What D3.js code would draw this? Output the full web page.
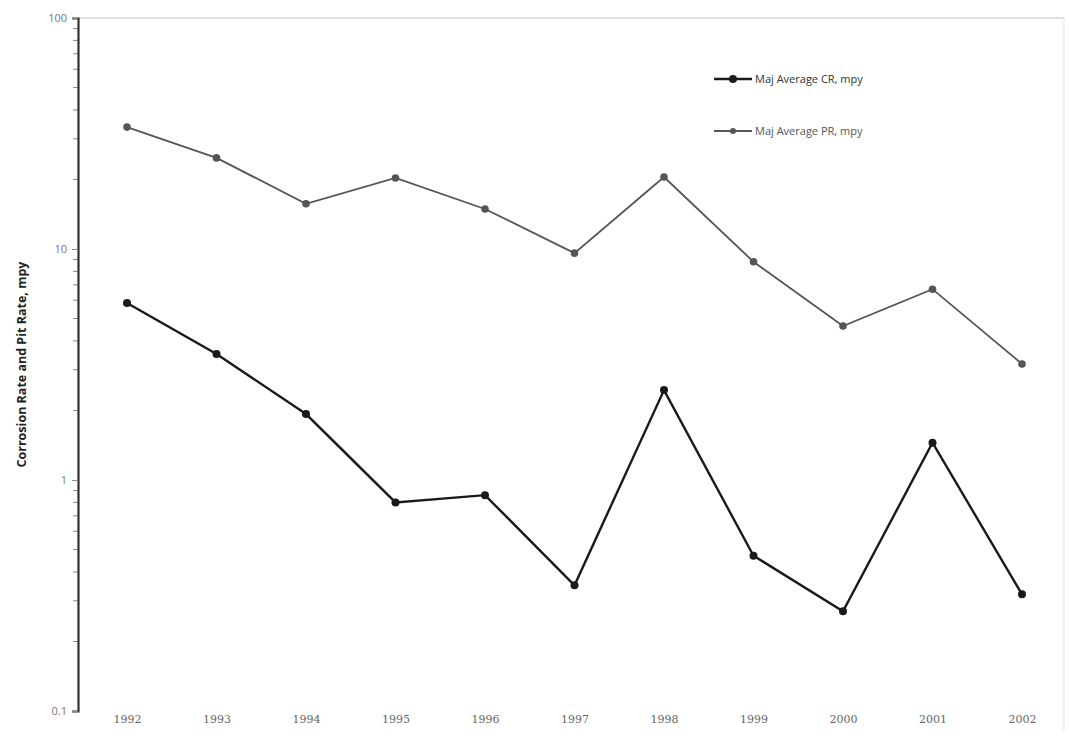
<!DOCTYPE html>
<html>
<head>
<meta charset="utf-8">
<script src="https://cdn.jsdelivr.net/npm/d3@7"></script>
<style>
  html, body { margin: 0; padding: 0; background: #fff; }
  svg { display: block; }
</style>
</head>
<body>
<svg id="chart" width="1069" height="750"></svg>
<script>
const years = [1992, 1993, 1994, 1995, 1996, 1997, 1998, 1999, 2000, 2001, 2002];
const crValues = [5.84, 3.51, 1.93, 0.80, 0.86, 0.35, 2.45, 0.47, 0.27, 1.45, 0.32];
const prValues = [33.7, 24.8, 15.7, 20.3, 14.9, 9.6, 20.5, 8.8, 4.64, 6.7, 3.18];
const yTicks = [0.1, 1, 10, 100];
const yTickLabels = ["0.1", "1", "10", "100"];
const seriesNames = ["Maj Average CR, mpy", "Maj Average PR, mpy"];

const svg = d3.select("#chart");
const margin = { top: 18, right: 3, bottom: 39, left: 78 };
const width = 1069 - margin.left - margin.right;
const height = 750 - margin.top - margin.bottom;

const g = svg.append("g").attr("transform", `translate(${margin.left},${margin.top})`);

const x = d3.scalePoint().domain(years).range([49, 944]);
const y = d3.scaleLog().domain([0.1, 100]).range([height, 0]);

// faint plot frame (top and right)
g.append("line")
  .attr("x1", 0).attr("x2", width - 2)
  .attr("y1", 0).attr("y2", 0)
  .attr("stroke", "#d4d4d4").attr("stroke-width", 1.5);
g.append("line")
  .attr("x1", width - 2).attr("x2", width - 2)
  .attr("y1", 0).attr("y2", height + 20)
  .attr("stroke", "#ececec").attr("stroke-width", 1.5);

// y axis with minor ticks
const minorTicks = y.ticks().filter((v) => !yTicks.includes(v));
g.append("g")
  .selectAll("line")
  .data(minorTicks)
  .join("line")
  .attr("x1", -5).attr("x2", 0)
  .attr("y1", (d) => y(d)).attr("y2", (d) => y(d))
  .attr("stroke", "#888").attr("stroke-width", 1);

const yAxis = g.append("g")
  .call(d3.axisLeft(y).tickValues(yTicks).tickFormat((d, i) => yTickLabels[i]).tickSize(6).tickPadding(5));
yAxis.select(".domain").attr("stroke", "#333").attr("stroke-width", 2.2);
yAxis.selectAll(".tick line").attr("stroke", "#888");
yAxis.selectAll(".tick text")
  .attr("fill", "#777")
  .style("font-family", "'Open Sans', sans-serif")
  .style("font-size", "11px");

// x axis labels only
const xAxis = g.append("g")
  .attr("transform", `translate(0,${height})`)
  .call(d3.axisBottom(x).tickSize(0).tickPadding(4));
xAxis.select(".domain").remove();
xAxis.selectAll(".tick text")
  .attr("fill", "#666")
  .style("font-family", "'DejaVu Serif', serif")
  .style("font-size", "11px");

// y title
svg.append("text")
  .attr("transform", `translate(26,${margin.top + height / 2}) rotate(-90)`)
  .attr("text-anchor", "middle")
  .attr("fill", "#222")
  .style("font-family", "'Open Sans', sans-serif")
  .style("font-weight", "bold")
  .style("font-size", "12.5px")
  .text("Corrosion Rate and Pit Rate, mpy");

const line = d3.line()
  .x((d, i) => x(years[i]))
  .y((d) => y(d));

const series = [
  { name: seriesNames[0], values: crValues, color: "#1a1a1a", width: 2.4, r: 4 },
  { name: seriesNames[1], values: prValues, color: "#555", width: 1.8, r: 3.8 }
];

series.forEach((s) => {
  g.append("path")
    .datum(s.values)
    .attr("fill", "none")
    .attr("stroke", s.color)
    .attr("stroke-width", s.width)
    .attr("d", line);
  g.selectAll(null)
    .data(s.values)
    .join("circle")
    .attr("cx", (d, i) => x(years[i]))
    .attr("cy", (d) => y(d))
    .attr("r", s.r)
    .attr("fill", s.color);
});

// legend
const legend = svg.append("g").attr("transform", "translate(714,79)");
series.forEach((s, i) => {
  const row = legend.append("g").attr("transform", `translate(0,${i * 52})`);
  row.append("line")
    .attr("x1", 0).attr("x2", 38)
    .attr("stroke", s.color).attr("stroke-width", s.width);
  row.append("circle")
    .attr("cx", 19).attr("r", i === 0 ? 4 : 3)
    .attr("fill", s.color);
  row.append("text")
    .attr("x", 41).attr("y", 4)
    .attr("fill", i === 0 ? "#333" : "#555")
    .style("font-family", "'Open Sans', sans-serif")
    .style("font-size", "11px")
    .text(s.name);
});
</script>
</body>
</html>
